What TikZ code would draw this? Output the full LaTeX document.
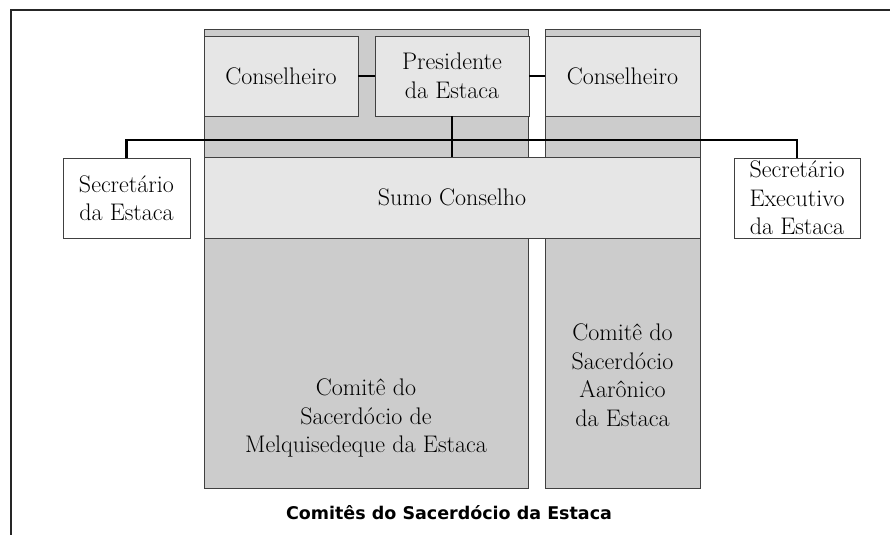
\documentclass[tikz,border=0pt]{standalone}
\usepackage{fontspec}
\setsansfont{DejaVu Sans}
\usepackage{tikz}
\usetikzlibrary{positioning}

\definecolor{colgray}{HTML}{CCCCCC}
\definecolor{boxgray}{HTML}{E6E6E6}
\definecolor{edgegray}{HTML}{404040}

\begin{document}
\begin{tikzpicture}[x=1pt,y=-1pt,
    every node/.style={font=\fontsize{24}{28.5}\selectfont, align=center, inner sep=0pt},
    column/.style={fill=colgray, draw=edgegray, line width=0.9pt},
    office/.style={fill=boxgray, draw=edgegray, line width=0.9pt, minimum height=80pt},
    secbox/.style={fill=white, draw=edgegray, line width=0.9pt, minimum width=127pt, minimum height=80pt},
    link/.style={draw=black, line width=2.2pt}]
    \useasboundingbox (0,0) rectangle (890,535);
    \draw[line width=1.6pt, draw=black!85] (890,10) -- (11,10) -- (11,535);
    % columns
    \draw[column] (204,29) rectangle (528,488);
    \draw[column] (545,29) rectangle (700,488);
    % presidency
    \node[office, minimum width=154pt] (consL) at (281,76) {Conselheiro};
    \node[office, minimum width=154pt] (pres) at (452,76) {Presidente\\da Estaca};
    \node[office, minimum width=155pt] (consR) at (622.5,76) {Conselheiro};
    \node[office, minimum width=496pt, minimum height=81pt] (sumo) at (452,197.5) {Sumo Conselho};
    \node[secbox] (secL) at (126.5,198) {Secret\'ario\\da Estaca};
    \node[secbox, minimum width=126pt] (secR) at (797,198) {Secret\'ario\\Executivo\\da Estaca};
    \coordinate (bus) at (452,140);
    \draw[link] (consL.east) -- (pres.west);
    \draw[link] (pres.east) -- (consR.west);
    \draw[link] (pres.south) -- (sumo.north);
    \draw[link] (secL.north) |- (bus) -| (secR.north);
    % committees
    \node (melq) at (366,418) {Comit\^e do\\Sacerd\'ocio de\\Melquisedeque da Estaca};
    \node (aaro) at (622.5,375) {Comit\^e do\\Sacerd\'ocio\\Aar\^onico\\da Estaca};
    \node[font=\sffamily\bfseries\fontsize{17.5}{20}\selectfont] (title) at (449,513) {Comitês do Sacerdócio da Estaca};
\end{tikzpicture}
\end{document}
